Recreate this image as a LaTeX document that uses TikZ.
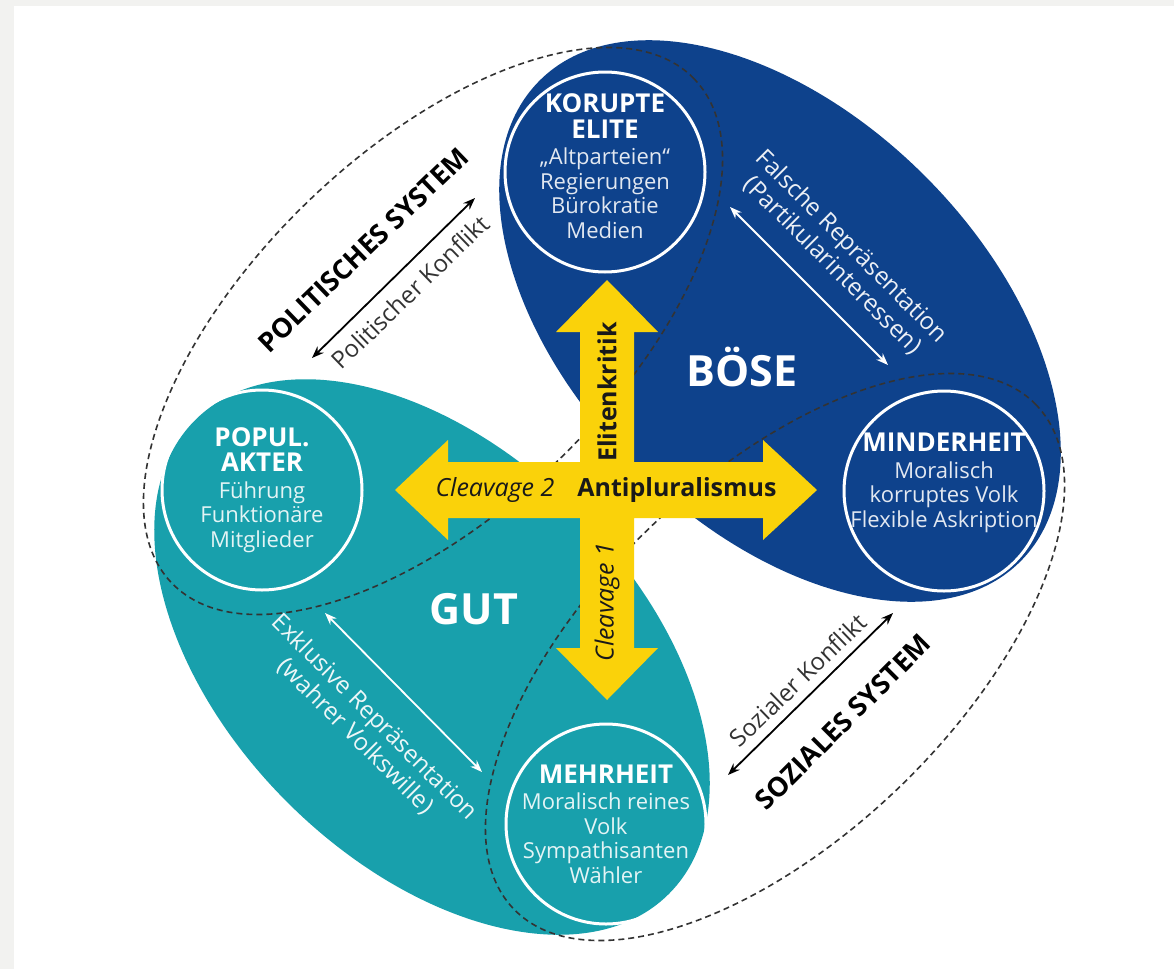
\documentclass[tikz,border=0pt]{standalone}
\usepackage{fontspec}
\setmainfont{Open Sans}
\usetikzlibrary{arrows.meta}
\definecolor{boese}{RGB}{14,66,140}
\definecolor{gut}{RGB}{24,160,172}
\definecolor{gelb}{RGB}{250,210,10}
\definecolor{rand}{RGB}{242,242,240}
\newcommand{\kopf}[1]{{\color{white}\fontsize{26}{28}\selectfont\bfseries #1}}

\begin{document}
\begin{tikzpicture}[x=1pt,y=1pt,
    kreis/.style={circle, draw=white, line width=3pt, minimum size=200pt, inner sep=0pt},
    inhalt/.style={align=center, text=white!88!#1, font=\fontsize{22}{24.5}\selectfont},
    grenze/.style={line width=1.6pt, dash pattern=on 6pt off 4pt, draw=black!80},
    pfeil/.style={{Stealth[length=12pt,width=9pt]}-{Stealth[length=12pt,width=9pt]}, line width=1.8pt},
    system/.style={font=\fontsize{27}{30}\selectfont\bfseries, text=black},
    konflikt/.style={font=\fontsize{24}{26}\selectfont, text=black!80},
    repr/.style={align=center, text=white!92!#1, font=\fontsize{24}{27}\selectfont},
    lager/.style={font=\fontsize{43}{46}\selectfont\bfseries, text=white},
    kreuz/.style={font=\fontsize{25}{28}\selectfont, text=black!90}]
    % hintergrund
    \fill[white] (0,0) rectangle (1174,-969);
    \fill[rand] (0,0) rectangle (14,-969);
    \fill[rand] (0,0) rectangle (1174,-6);
    \useasboundingbox (0,0) rectangle (1174,-969);

    % lager
    \fill[boese] (780,-321) ellipse [x radius=340, y radius=205, rotate=-45];
    \fill[gut] (432,-657) ellipse [x radius=335, y radius=205, rotate=-45];

    % systeme
    \draw[grenze] (433,-331) ellipse [x radius=363, y radius=180, rotate=44];
    \draw[grenze] (775,-657) ellipse [x radius=363, y radius=180, rotate=44];

    % kreuz
    \fill[gelb] (607,-280) -- (658,-332) -- (634,-332) -- (634,-462) -- (763,-462)
        -- (763,-440) -- (817,-490) -- (763,-540) -- (763,-518) -- (634,-518)
        -- (634,-648) -- (658,-648) -- (607,-700) -- (556,-648) -- (580,-648)
        -- (580,-518) -- (448,-518) -- (448,-540) -- (395,-490) -- (448,-440)
        -- (448,-462) -- (580,-462) -- (580,-332) -- (556,-332) -- cycle;
    \node[kreuz, font=\fontsize{25}{28}\selectfont\bfseries, rotate=90] (elitenkritik) at (607,-392) {Elitenkritik};
    \node[kreuz, font=\fontsize{25}{28}\selectfont\itshape, rotate=90] (cleavage1) at (607,-602) {Cleavage 1};
    \node[kreuz, font=\fontsize{25}{28}\selectfont\itshape] (cleavage2) at (495,-490) {Cleavage 2};
    \node[kreuz, font=\fontsize{25}{28}\selectfont\bfseries] (antipluralismus) at (677,-490) {Antipluralismus};

    % akteure
    \node[kreis] (elite) at (605,-172) {};
    \node[kreis] (akteur) at (262,-490) {};
    \node[kreis] (minderheit) at (944,-491) {};
    \node[kreis] (mehrheit) at (606,-824) {};
    \node[inhalt=boese] at ([yshift=6pt]elite.center) {\kopf{KORUPTE}\\[1pt]\kopf{ELITE}\\[2pt]„Altparteien“\\Regierungen\\Bürokratie\\Medien};
    \node[inhalt=gut] at (akteur) {\kopf{POPUL.}\\[1pt]\kopf{AKTER}\\[2pt]Führung\\Funktionäre\\Mitglieder};
    \node[inhalt=boese] at ([yshift=8pt]minderheit.center) {\kopf{MINDERHEIT}\\[2pt]Moralisch\\korruptes Volk\\Flexible Askription};
    \node[inhalt=gut] at (mehrheit) {\kopf{MEHRHEIT}\\[2pt]Moralisch reines\\Volk\\Sympathisanten\\Wähler};

    \node[lager] (boese) at (742,-367) {BÖSE};
    \node[lager] (gut) at (474,-609) {GUT};

    % konflikte
    \coordinate (pk1) at (312,-358);
    \coordinate (pk2) at (475,-198);
    \draw[pfeil] (pk1) -- (pk2);
    \node[konflikt, rotate=44] (politkonflikt) at (410,-292) {Politischer Konflikt};
    \node[system, rotate=44] (politsystem) at (363,-250) {POLITISCHES SYSTEM};

    \coordinate (sk1) at (728,-775);
    \coordinate (sk2) at (893,-613);
    \draw[pfeil] (sk1) -- (sk2);
    \node[konflikt, rotate=44] (sozkonflikt) at (798,-680) {Sozialer Konflikt};
    \node[system, rotate=45] (sozsystem) at (843,-722) {SOZIALES SYSTEM};

    % repraesentation
    \coordinate (fr1) at (730,-207);
    \coordinate (fr2) at (888,-365);
    \draw[pfeil, white] (fr1) -- (fr2);
    \node[repr=boese, rotate=-45] (falsch) at (842,-256) {Falsche Repräsentation\\(Partikularinteressen)};

    \coordinate (er1) at (325,-613);
    \coordinate (er2) at (482,-772);
    \draw[pfeil, white] (er1) -- (er2);
    \node[repr=gut, rotate=-45] (exklusiv) at (365,-727) {Exklusive Repräsentation\\(wahrer Volkswille)};
\end{tikzpicture}
\end{document}
